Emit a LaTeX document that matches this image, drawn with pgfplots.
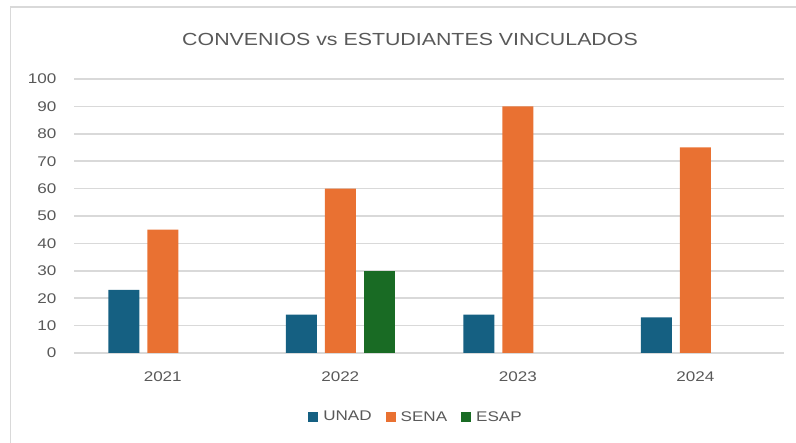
\documentclass[border=0pt]{standalone}
\usepackage{pgfplots}
\pgfplotsset{compat=1.18}
\usepackage{fontspec}
\setmainfont{Liberation Sans}[FakeStretch=1.22]
\definecolor{unad}{HTML}{156082}
\definecolor{sena}{HTML}{E97132}
\definecolor{esap}{HTML}{196B24}
\definecolor{gridc}{HTML}{D9D9D9}
\definecolor{txt}{HTML}{595959}
\begin{document}
\begin{tikzpicture}[x=1bp,y=1bp]
\useasboundingbox (0,0) rectangle (796,443);
\draw[gridc, line width=1.5bp] (10.5,-20) rectangle (820,436);
\node[txt, font=\fontsize{17.5bp}{20bp}\selectfont] at (410,404) {CONVENIOS vs ESTUDIANTES VINCULADOS};
\begin{axis}[at={(74bp,90bp)}, anchor=south west, width=710bp, height=274bp, scale only axis,
  ybar=8bp, bar width=31bp,
  xmin=-0.5, xmax=3.5, ymin=0, ymax=100, ytick={0,10,...,100},
  xtick={0,1,2,3}, xticklabels={2021,2022,2023,2024},
  axis line style={draw=none},
  ymajorgrids, grid style={gridc, line width=1.6bp},
  major tick length=0,
  tick label style={txt, font=\fontsize{14bp}{16bp}\selectfont},
  /pgf/number format/assume math mode=true,
  yticklabel style={xshift=-14bp},
  xticklabel style={yshift=-15bp},
  legend style={at={(0.5,-0.226)}, anchor=center, xshift=-13bp, yshift=-2bp, draw=none, legend columns=3,
    font=\fontsize{14bp}{16bp}\selectfont, text=txt,
    /tikz/every odd column/.append style={column sep=3bp},
    /tikz/every even column/.append style={column sep=12bp}},
  legend image code/.code={\draw[#1, draw=none] (0bp,-5bp) rectangle (10bp,5bp);},
]
\addplot[fill=unad, draw=none] coordinates {(0,23) (1,14) (2,14) (3,13)};
\addplot[fill=sena, draw=none] coordinates {(0,45) (1,60) (2,90) (3,75)};
\addplot[fill=esap, draw=none] coordinates {(1,30)};
\legend{UNAD,SENA,ESAP}
\end{axis}
\end{tikzpicture}
\end{document}
